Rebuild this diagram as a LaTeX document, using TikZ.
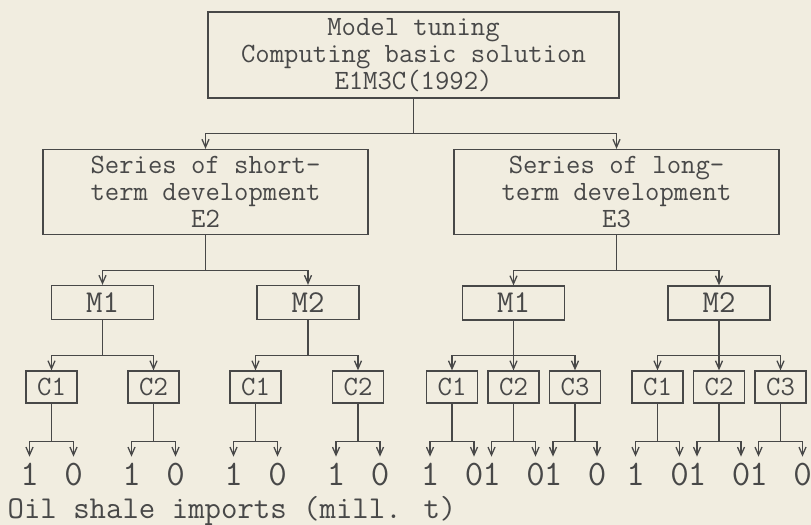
\documentclass[tikz,border=0pt]{standalone}
\usepackage{xcolor}
\usepackage{tikz}
\usetikzlibrary{arrows.meta,positioning,calc}
\definecolor{scanpaper}{RGB}{241,237,224}
\definecolor{scanink}{RGB}{72,72,72}
\newcommand{\importleaves}[1]{%
  \node[leaf] (#1one) at ($(#1.south)+(-22,53)$) {1};
  \node[leaf] (#1zero) at ($(#1.south)+(22,53)$) {0};
  \draw[->] (#1.south) -- ++(0,38) -| (#1one.north);
  \draw[->] (#1.south) -- ++(0,38) -| (#1zero.north);
}

\begin{document}
\begin{tikzpicture}[
    x=1bp, y=-1bp,
    >={Straight Barb[length=8bp,width=7bp]},
    line width=1.3bp, draw=scanink,
    every node/.style={text=scanink},
    plainbox/.style={draw=scanink, line width=1.3bp, align=center, inner sep=2bp, font=\ttfamily\fontsize{28}{27}\selectfont},
    topbox/.style={plainbox, minimum width=411bp, minimum height=86bp},
    seriesbox/.style={plainbox, minimum width=325bp, minimum height=85bp},
    modebox/.style={plainbox, minimum width=102bp, minimum height=34bp, font=\ttfamily\fontsize{32}{32}\selectfont},
    casebox/.style={plainbox, minimum width=51bp, minimum height=32bp},
    leaf/.style={anchor=north, inner sep=6bp, font=\ttfamily\fontsize{36}{36}\selectfont},
    caption/.style={anchor=base west, inner sep=0pt, font=\ttfamily\fontsize{32}{32}\selectfont}
]
\useasboundingbox (0,0) rectangle (811,525);
\fill[scanpaper] (0,0) rectangle (811,525);
\node[topbox] (tuning) at (413.5,55) {Model tuning\\Computing basic solution\\E1M3C(1992)};
\node[seriesbox] (short) at (205.5,192) {Series of short-\\term development\\E2};
\node[seriesbox] (long) at (616.5,192) {Series of long-\\term development\\E3};
\node[modebox] (sma) at (102.5,302.5) {M1};
\node[modebox] (smb) at (308,302.5) {M2};
\node[modebox] (lma) at (513.5,303) {M1};
\node[modebox] (lmb) at (719,303) {M2};
\node[casebox] (smaca) at (51.5,387) {C1};
\node[casebox] (smacb) at (153.5,387) {C2};
\node[casebox] (smbca) at (255.5,387) {C1};
\node[casebox] (smbcb) at (358,387) {C2};
\node[casebox] (lmaca) at (452,387) {C1};
\node[casebox] (lmacb) at (513.5,387) {C2};
\node[casebox] (lmacc) at (575,387) {C3};
\node[casebox] (lmbca) at (657.5,387) {C1};
\node[casebox] (lmbcb) at (719,387) {C2};
\node[casebox] (lmbcc) at (780.5,387) {C3};
\draw[->] (tuning.south) -- ++(0,35) -| (short.north);
\draw[->] (tuning.south) -- ++(0,35) -| (long.north);
\draw[->] (short.south) -- ++(0,35) -| (sma.north);
\draw[->] (short.south) -- ++(0,35) -| (smb.north);
\draw[->] (long.south) -- ++(0,35) -| (lma.north);
\draw[->] (long.south) -- ++(0,35) -| (lmb.north);
\draw[->] (sma.south) -- ++(0,35) -| (smaca.north);
\draw[->] (sma.south) -- ++(0,35) -| (smacb.north);
\draw[->] (smb.south) -- ++(0,35) -| (smbca.north);
\draw[->] (smb.south) -- ++(0,35) -| (smbcb.north);
\draw[->] (lma.south) -- ++(0,35) -| (lmaca.north);
\draw[->] (lma.south) -- ++(0,35) -| (lmacb.north);
\draw[->] (lma.south) -- ++(0,35) -| (lmacc.north);
\draw[->] (lmb.south) -- ++(0,35) -| (lmbca.north);
\draw[->] (lmb.south) -- ++(0,35) -| (lmbcb.north);
\draw[->] (lmb.south) -- ++(0,35) -| (lmbcc.north);
% import choices under every case
\importleaves{smaca}
\importleaves{smacb}
\importleaves{smbca}
\importleaves{smbcb}
\importleaves{lmaca}
\importleaves{lmacb}
\importleaves{lmacc}
\importleaves{lmbca}
\importleaves{lmbcb}
\importleaves{lmbcc}
\node[caption] (unit) at (7,518) {Oil shale imports (mill. t)};
\end{tikzpicture}
\end{document}
